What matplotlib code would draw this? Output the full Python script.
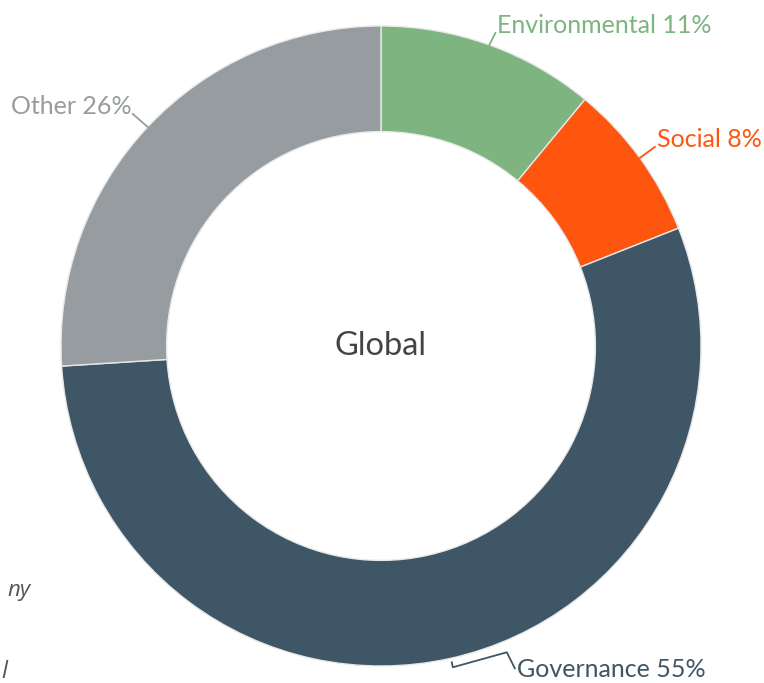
import matplotlib.pyplot as plt
import numpy as np

labels = ['Environmental', 'Social', 'Governance', 'Other']
shares = [11, 8, 55, 26]
colors = ['#7db47f', '#fe550f', '#3e5665', '#979ca0']

plt.rcParams['font.family'] = ['Lato', 'DejaVu Sans']

fig = plt.figure(figsize=(7.64, 6.83), dpi=100)
ax = fig.add_axes([0, 0, 1, 1])

cx, cy, r = 381, 337, 320
ax.pie(shares, colors=colors, startangle=90, counterclock=False,
       center=(cx, cy), radius=r,
       wedgeprops=dict(width=r * 0.33, edgecolor='#e8e8e8', linewidth=1))
ax.set_xlim(0, 764)
ax.set_ylim(0, 683)
ax.set_aspect('equal')
ax.axis('off')

ax.text(cx, cy - 9, 'Global', ha='center', va='baseline', fontsize=23.5, color='#444444')

# leader end offset from wedge edge midpoint, alignment
offsets = [(6, 12, 'left'), (15, 11, 'left'), (64, -10, 'left'), (-15, 13, 'right')]
cum = np.cumsum([0] + shares)
for i, lab in enumerate(labels):
    mid = np.deg2rad((cum[i] + cum[i + 1]) / 2 * 3.6)
    x0 = cx + r * np.sin(mid)
    y0 = cy + r * np.cos(mid)
    dx, dy, ha = offsets[i]
    tx, ty = x0 + dx, y0 + dy
    if i == 2:
        ax.plot([x0 + 1, x0 + 2, x0 + 56, tx], [y0 - 4, y0 - 9, y0 + 6, ty],
                color=colors[i], lw=1.3)
        ty = ty - 9
    else:
        ax.plot([x0, tx], [y0, ty], color=colors[i], lw=1.3)
    ax.text(tx + (2 if ha == 'left' else -1), ty, f'{lab} {shares[i]}%',
            ha=ha, va='baseline', fontsize=18, color=colors[i])

# note text partly hidden on the left edge
ax.text(31, 683 - 596, 'ny', ha='right', va='baseline', fontsize=16,
        style='italic', color='#555555', family='Open Sans')
ax.text(1, 683 - 678, 'l', ha='left', va='baseline', fontsize=17,
        style='italic', color='#555555', family='Open Sans')

plt.savefig('out.png', dpi=100)
